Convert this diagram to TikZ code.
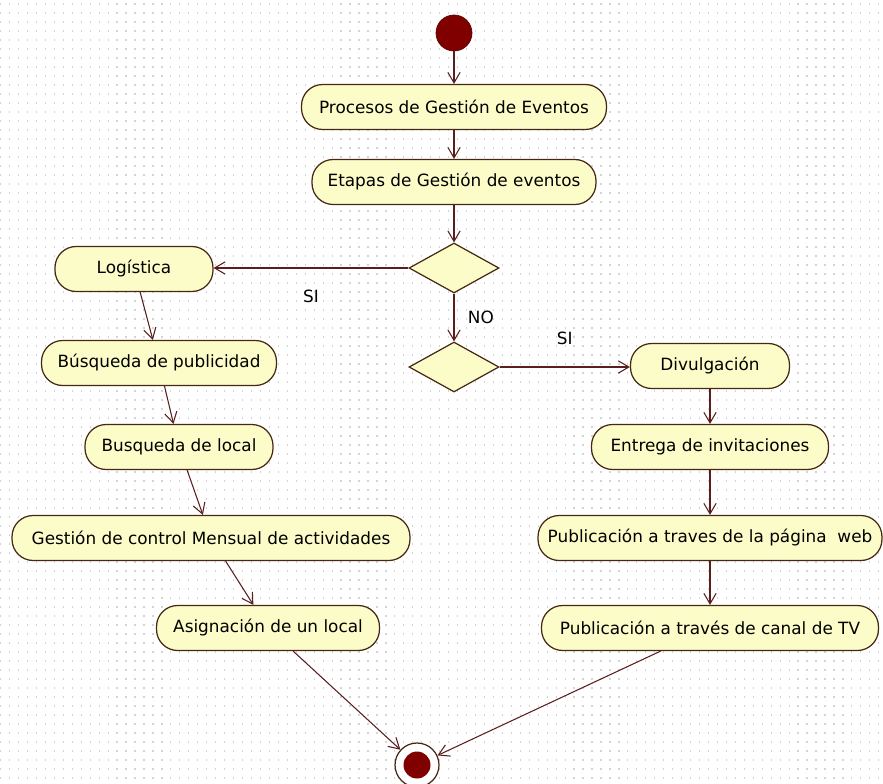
\documentclass[tikz,border=0pt]{standalone}
\usepackage{fontspec}
\setmainfont{DejaVu Sans}
\usetikzlibrary{calc,shapes.geometric,arrows.meta}
\definecolor{actfill}{RGB}{252,252,200}
\definecolor{actline}{RGB}{70,40,20}
\definecolor{flowline}{RGB}{90,30,30}
\definecolor{dotred}{RGB}{128,0,0}

\begin{document}
\begin{tikzpicture}[x=0.02cm,y=-0.02cm,
  act/.style={draw=actline, line width=0.7pt, fill=actfill, rounded corners=12pt,
    minimum height=0.9cm, inner sep=2pt, font=\fontsize{9.6}{11}\selectfont},
  dec/.style={diamond, draw=actline, line width=0.7pt, fill=actfill, minimum width=1.8cm,
    minimum height=1cm, inner sep=0pt},
  flow/.style={draw=flowline, line width=0.6pt, -{Straight Barb[length=6pt,width=7pt]}},
  lbl/.style={font=\fontsize{9.6}{11}\selectfont}]
  %% Background with dotted grid
  \useasboundingbox (0,0) rectangle (883,784);
  \fill[white] (0,0) rectangle (883,784);
  \foreach \y in {4,13,...,784}
    \draw[black!17, line width=0.7pt, dash pattern=on 0.7pt off 4.4pt] (0,\y) -- (883,\y);

  %% Start and top of the flow
  \node[circle, fill=dotred, draw=dotred!70!black, minimum size=0.72cm, inner sep=0pt] (START) at (454,33) {};
  \node[act, minimum width=6.1cm]  (PROC)   at (454,107) {Procesos de Gestión de Eventos};
  \node[act, minimum width=5.68cm] (ETAPAS) at (454,182) {Etapas de Gestión de eventos};
  \node[dec] (DEC1) at (454,268) {};
  \node[dec] (DEC2) at (454,367) {};

  %% Left branch
  \node[act, minimum width=3.16cm] (LOG)   at (134,269) {Logística};
  \node[act, minimum width=4.7cm]  (BPUB)  at (159,363) {Búsqueda de publicidad};
  \node[act, minimum width=3.76cm] (BLOC)  at (179,447) {Busqueda de local};
  \node[act, minimum width=7.96cm] (GCTRL) at (211,538) {Gestión de control Mensual de actividades};
  \node[act, minimum width=4.46cm] (ASIG)  at (268,628) {Asignación de un local};

  %% Right branch
  \node[act, minimum width=3.18cm] (DIV)  at (710,366) {Divulgación};
  \node[act, minimum width=4.74cm] (ENT)  at (710,447) {Entrega de invitaciones};
  \node[act, minimum width=6.88cm] (PWEB) at (710,538) {Publicación a traves de la página\ \ web};
  \node[act, minimum width=6.74cm] (PTV)  at (710,628) {Publicación a través de canal de TV};

  %% End
  \node[circle, draw=actline, line width=0.7pt, fill=white, minimum size=0.88cm, inner sep=0pt] (FIN) at (417,765) {};
  \node[circle, fill=dotred, minimum size=0.54cm, inner sep=0pt] (FININ) at (FIN) {};

  %% Transitions
  \foreach \a/\b in {START/PROC, PROC/ETAPAS, ETAPAS/DEC1, LOG/BPUB, BPUB/BLOC,
                     BLOC/GCTRL, GCTRL/ASIG, ASIG/FIN, DIV/ENT, ENT/PWEB, PWEB/PTV, PTV/FIN}
    \draw[flow] (\a) -- (\b);

  \draw[flow] (DEC1.west) -- node[lbl, midway, below=0.32cm] (SI1) {SI} (DEC1.west -| LOG.east);
  \draw[flow] (DEC1.south) -- node[lbl, midway, right=0.15cm] (NO) {NO} (DEC2.north);
  \draw[flow] (DEC2.east) -- node[lbl, midway, above=0.32cm] (SI2) {SI} (DEC2.east -| DIV.west);
\end{tikzpicture}
\end{document}
